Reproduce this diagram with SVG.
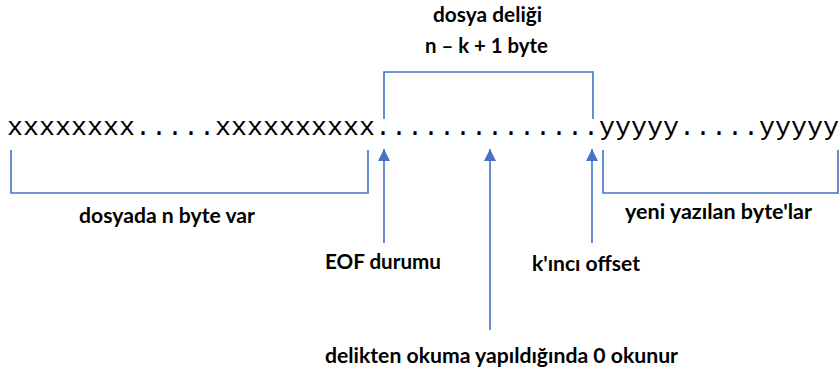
<svg xmlns="http://www.w3.org/2000/svg" width="839" height="376" viewBox="0 0 839 376">
  <style>
    .bracket { fill: none; stroke: #4472C4; stroke-width: 1.6; }
    .arrow { fill: none; stroke: #4472C4; stroke-width: 1.6; marker-end: url(#head); }
    .label { font-family: Lato, "Liberation Sans", sans-serif; font-weight: bold; font-size: 20px; fill: #000; }
    .data { font-family: "Liberation Mono", "DejaVu Sans Mono", monospace; font-size: 26.67px; fill: #000; }
  </style>
  <defs>
    <marker id="head" markerUnits="userSpaceOnUse" markerWidth="12" markerHeight="12" viewBox="0 0 10 10" refX="10" refY="5" orient="auto">
      <path d="M0,0 L10,5 L0,10 Z" fill="#4472C4"/>
    </marker>
  </defs>
  <rect width="839" height="376" fill="#ffffff"/>

  <!-- file contents row -->
  <g id="file-bytes">
    <text class="data" x="7" y="135" textLength="832" lengthAdjust="spacing">xxxxxxxx.....xxxxxxxxxx..............yyyyy.....yyyyy</text>
  </g>

  <!-- brackets and pointer arrows -->
  <g id="connectors">
    <path class="bracket" d="M384,119 V72 H593 V119"/>
    <path class="bracket" d="M11,150 V193 H368 V150"/>
    <path class="bracket" d="M603,150 V193 H838 V150"/>
    <line class="arrow" x1="384" y1="243" x2="384" y2="149"/>
    <line class="arrow" x1="490" y1="330" x2="490" y2="149"/>
    <line class="arrow" x1="592" y1="243" x2="592" y2="149"/>
  </g>

  <g id="hole-label">
    <text class="label" x="433" y="22" textLength="109" lengthAdjust="spacingAndGlyphs">dosya deliği</text>
    <text class="label" x="425" y="53" textLength="123" lengthAdjust="spacingAndGlyphs">n – k + 1 byte</text>
  </g>
  <g id="existing-label">
    <text class="label" x="79" y="223" textLength="176" lengthAdjust="spacingAndGlyphs">dosyada n byte var</text>
  </g>
  <g id="new-label">
    <text class="label" x="625" y="219" textLength="187" lengthAdjust="spacingAndGlyphs">yeni yazılan byte'lar</text>
  </g>
  <g id="eof-label">
    <text class="label" x="325" y="269" textLength="116" lengthAdjust="spacingAndGlyphs">EOF durumu</text>
  </g>
  <g id="offset-label">
    <text class="label" x="532" y="271" textLength="108" lengthAdjust="spacingAndGlyphs">k'ıncı offset</text>
  </g>
  <g id="read-label">
    <text class="label" x="325" y="363" textLength="353" lengthAdjust="spacingAndGlyphs">delikten okuma yapıldığında 0 okunur</text>
  </g>
</svg>
